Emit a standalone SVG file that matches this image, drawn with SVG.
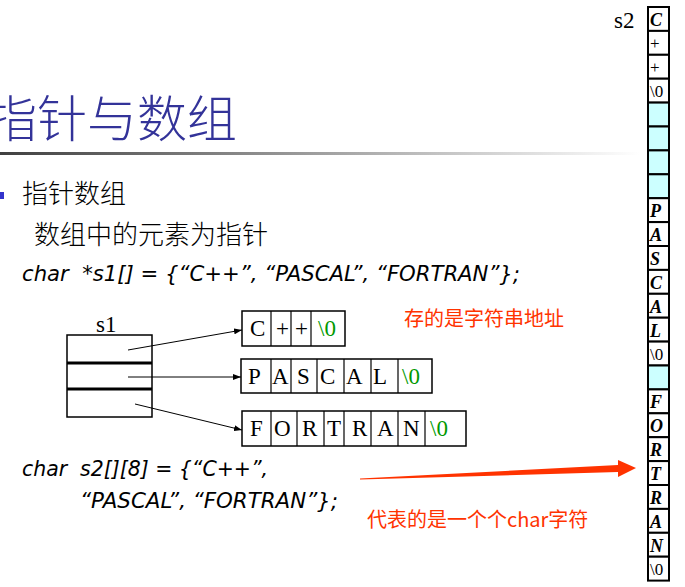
<svg xmlns="http://www.w3.org/2000/svg" width="685" height="587" viewBox="0 0 685 587">
<style>
.cjk{font-family:"Noto Sans CJK SC","Noto Sans",sans-serif;}
.thin{font-weight:300;}
.code{font-family:"DejaVu Sans Condensed","DejaVu Sans",sans-serif;font-style:italic;font-size:21px;fill:#000;white-space:pre;}
.ser{font-family:"Liberation Serif",serif;font-size:23px;fill:#000;}
.grn{fill:#009900;}
.box{fill:#fff;stroke:#000;stroke-width:1.5;}
.div{stroke:#000;stroke-width:1.2;}
.cell{fill:#fff;stroke:#000;stroke-width:2;}
.cy{fill:#ccffff;stroke:#000;stroke-width:2;}
.ct{font-family:"Liberation Serif",serif;font-size:18px;font-weight:bold;font-style:italic;fill:#000;}
.cn{font-family:"Liberation Serif",serif;font-size:17px;fill:#000;}
.conn{stroke:#000;stroke-width:1;fill:none;marker-end:url(#ah);}
.red{fill:#ff3300;}
</style>
<defs>
<linearGradient id="gl" x1="0" y1="0" x2="1" y2="0">
<stop offset="0" stop-color="#404040"/>
<stop offset="1" stop-color="#ffffff"/>
</linearGradient>
<marker id="ah" markerWidth="8" markerHeight="6" refX="8" refY="3" orient="auto" markerUnits="userSpaceOnUse">
<path d="M0,0 L8,3 L0,6 Z" fill="#000"/>
</marker>
</defs>
<rect width="685" height="587" fill="#fff"/>

<g id="title">
<text class="cjk thin" x="-13" y="137" font-size="50" fill="#333399">指针与数组</text>
<rect x="0" y="152" width="640" height="3" fill="url(#gl)"/>
</g>

<g id="bullet">
<rect x="-3" y="192" width="7" height="7" fill="#3333cc"/>
<text class="cjk thin" x="22" y="203" font-size="26" fill="#000">指针数组</text>
<text class="cjk thin" x="34" y="244" font-size="26" fill="#000">数组中的元素为指针</text>
</g>

<g id="code1">
<text class="code" x="22" y="281" textLength="498" lengthAdjust="spacingAndGlyphs">char  *s1[] = {“C++”, “PASCAL”, “FORTRAN”};</text>
</g>

<g id="s1">
<text class="ser" x="96" y="332">s1</text>
<rect class="box" x="67" y="335" width="85" height="82"/>
<line x1="67" y1="363" x2="152" y2="363" stroke="#000" stroke-width="3"/>
<line x1="67" y1="389" x2="152" y2="389" stroke="#000" stroke-width="3"/>
</g>

<g id="str-cpp">
<rect class="box" x="242" y="311" width="103" height="35"/>
<line class="div" x1="271" y1="311" x2="271" y2="346"/>
<line class="div" x1="291" y1="311" x2="291" y2="346"/>
<line class="div" x1="311" y1="311" x2="311" y2="346"/>
<text class="ser" x="250" y="336">C</text>
<text class="ser" x="276" y="336">+</text>
<text class="ser" x="295" y="336">+</text>
<text class="ser grn" x="318" y="336">\0</text>
</g>

<g id="str-pascal">
<rect class="box" x="241" y="359" width="191" height="34"/>
<line class="div" x1="271" y1="359" x2="271" y2="393"/>
<line class="div" x1="291" y1="359" x2="291" y2="393"/>
<line class="div" x1="317" y1="359" x2="317" y2="393"/>
<line class="div" x1="344" y1="359" x2="344" y2="393"/>
<line class="div" x1="371" y1="359" x2="371" y2="393"/>
<line class="div" x1="398" y1="359" x2="398" y2="393"/>
<text class="ser" x="248" y="384">P</text>
<text class="ser" x="272" y="384">A</text>
<text class="ser" x="297" y="384">S</text>
<text class="ser" x="320" y="384">C</text>
<text class="ser" x="346" y="384">A</text>
<text class="ser" x="373" y="384">L</text>
<text class="ser grn" x="402" y="384">\0</text>
</g>

<g id="str-fortran">
<rect class="box" x="242" y="411" width="224" height="35"/>
<line class="div" x1="271" y1="411" x2="271" y2="446"/>
<line class="div" x1="297" y1="411" x2="297" y2="446"/>
<line class="div" x1="324" y1="411" x2="324" y2="446"/>
<line class="div" x1="344" y1="411" x2="344" y2="446"/>
<line class="div" x1="371" y1="411" x2="371" y2="446"/>
<line class="div" x1="398" y1="411" x2="398" y2="446"/>
<line class="div" x1="425" y1="411" x2="425" y2="446"/>
<text class="ser" x="250" y="436">F</text>
<text class="ser" x="274" y="436">O</text>
<text class="ser" x="302" y="436">R</text>
<text class="ser" x="327" y="436">T</text>
<text class="ser" x="352" y="436">R</text>
<text class="ser" x="377" y="436">A</text>
<text class="ser" x="403" y="436">N</text>
<text class="ser grn" x="430" y="436">\0</text>
</g>

<g id="note1">
<text class="cjk red" x="404" y="326" font-size="20">存的是字符串地址</text>
</g>

<g id="code2">
<text class="code" x="22" y="476" textLength="246" lengthAdjust="spacingAndGlyphs">char  s2[][8] = {“C++”,</text>
<text class="code" x="80" y="508" textLength="258" lengthAdjust="spacingAndGlyphs">“PASCAL”, “FORTRAN”};</text>
</g>

<g id="note2">
<text class="cjk red" x="367" y="527" font-size="20">代表的是一个个char字符</text>
</g>

<g id="s2">
<text class="ser" x="614" y="28" font-size="22">s2</text>
<rect class="cell" x="648" y="7" width="21" height="23.9"/>
<rect class="cell" x="648" y="30.9" width="21" height="23.9"/>
<rect class="cell" x="648" y="54.8" width="21" height="23.9"/>
<rect class="cell" x="648" y="78.7" width="21" height="23.9"/>
<rect class="cy" x="648" y="102.6" width="21" height="23.9"/>
<rect class="cy" x="648" y="126.5" width="21" height="23.9"/>
<rect class="cy" x="648" y="150.4" width="21" height="23.9"/>
<rect class="cy" x="648" y="174.3" width="21" height="23.9"/>
<rect class="cell" x="648" y="198.2" width="21" height="23.9"/>
<rect class="cell" x="648" y="222.1" width="21" height="23.9"/>
<rect class="cell" x="648" y="246" width="21" height="23.9"/>
<rect class="cell" x="648" y="269.9" width="21" height="23.9"/>
<rect class="cell" x="648" y="293.8" width="21" height="23.9"/>
<rect class="cell" x="648" y="317.7" width="21" height="23.9"/>
<rect class="cell" x="648" y="341.6" width="21" height="23.9"/>
<rect class="cy" x="648" y="365.5" width="21" height="23.9"/>
<rect class="cell" x="648" y="389.4" width="21" height="23.9"/>
<rect class="cell" x="648" y="413.3" width="21" height="23.9"/>
<rect class="cell" x="648" y="437.2" width="21" height="23.9"/>
<rect class="cell" x="648" y="461.1" width="21" height="23.9"/>
<rect class="cell" x="648" y="485" width="21" height="23.9"/>
<rect class="cell" x="648" y="508.9" width="21" height="23.9"/>
<rect class="cell" x="648" y="532.8" width="21" height="23.9"/>
<rect class="cell" x="648" y="556.7" width="21" height="23.9"/>
<text class="ct" x="650" y="26">C</text>
<text class="cn" x="650" y="49">+</text>
<text class="cn" x="650" y="73">+</text>
<text class="cn" x="650" y="97">\0</text>
<text class="ct" x="650" y="217">P</text>
<text class="ct" x="650" y="241">A</text>
<text class="ct" x="650" y="265">S</text>
<text class="ct" x="650" y="289">C</text>
<text class="ct" x="650" y="313">A</text>
<text class="ct" x="650" y="337">L</text>
<text class="cn" x="650" y="360">\0</text>
<text class="ct" x="650" y="408">F</text>
<text class="ct" x="650" y="432">O</text>
<text class="ct" x="650" y="456">R</text>
<text class="ct" x="650" y="480">T</text>
<text class="ct" x="650" y="504">R</text>
<text class="ct" x="650" y="528">A</text>
<text class="ct" x="650" y="552">N</text>
<text class="cn" x="650" y="575">\0</text>
</g>

<g id="connectors">
<line class="conn" x1="128" y1="350" x2="242" y2="330"/>
<line class="conn" x1="128" y1="377" x2="241" y2="377"/>
<line class="conn" x1="135" y1="404" x2="242" y2="430"/>
<polygon class="red" points="360,478.6 618,465 618,460 636,468 618,477 618,472 360,479.6"/>
</g>
</svg>
